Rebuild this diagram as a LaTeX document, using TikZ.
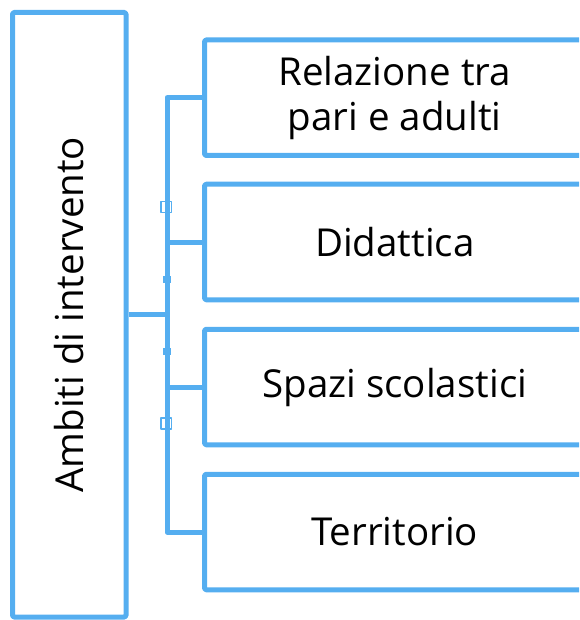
\documentclass[tikz,border=0pt]{standalone}
\usepackage{fontspec}
\setmainfont{Open Sans}
\definecolor{boxblue}{RGB}{85,174,240}

\begin{document}
\begin{tikzpicture}
            [x=1pt,y=-1pt,line width=5pt,line join=round,
             every node/.style={draw=boxblue,rounded corners=1.5pt,align=center,inner sep=0pt,
               font=\fontsize{38.5}{45}\selectfont},
             ramo/.style={minimum width=380.5pt,minimum height=115.5pt}]
            \clip (0,0) rectangle (579,620);
            \node[rotate=90,minimum width=604.5pt,minimum height=113.5pt] (0) at (69.25,314.75) {Ambiti di intervento};
            \node[ramo] (1) at (394.75,97.75) {Relazione tra\\pari e adulti};
            \node[ramo] (2) at (394.75,242) {Didattica};
            \node[ramo] (3) at (394.75,387) {Spazi scolastici};
            \node[ramo] (4) at (394.75,532) {Territorio};
            \coordinate (t1) at (167,97.75);
            \coordinate (t4) at (167,532);
            \draw[boxblue] (1) -- (t1) -- (t4) -- (4);
            \draw[boxblue] (0) -- (0 -| t1);
            \draw[boxblue] (2) -- (2 -| t1);
            \draw[boxblue] (3) -- (3 -| t1);
            % small marks on the trunk
            \draw[boxblue,line width=1.5pt] (161,201.5) rectangle (171.5,212.5);
            \draw[boxblue,line width=1.5pt] (161,418) rectangle (171.5,429);
            \fill[boxblue] (163,276) rectangle (170.5,283);
            \fill[boxblue] (163,348) rectangle (170.5,355);

        \end{tikzpicture}
\end{document}
